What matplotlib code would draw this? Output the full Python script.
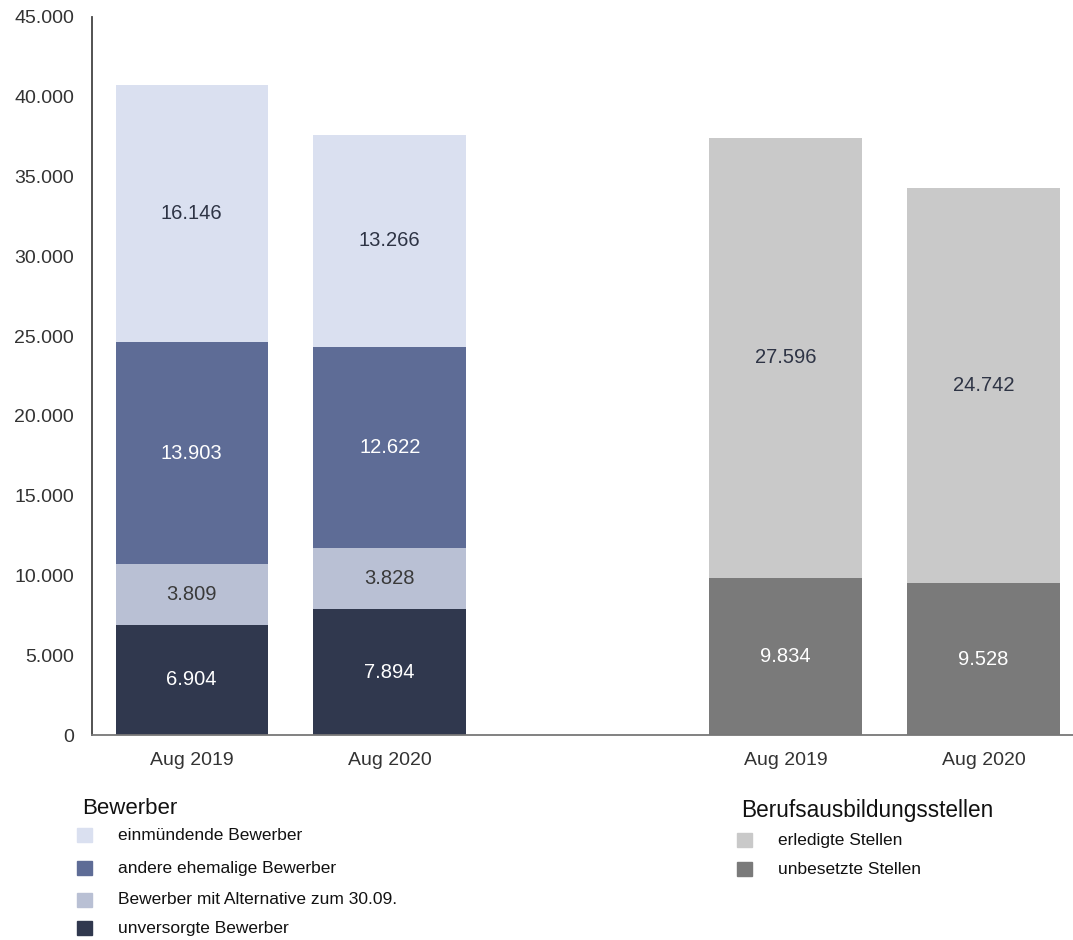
import matplotlib
matplotlib.use("Agg")
import matplotlib.pyplot as plt
from matplotlib.patches import Rectangle

plt.rcParams['font.family'] = ['Liberation Sans', 'DejaVu Sans']

# Data
categories = ["Aug 2019", "Aug 2020", "Aug 2019", "Aug 2020"]
bew_labels = ["unversorgte Bewerber", "Bewerber mit Alternative zum 30.09.",
              "andere ehemalige Bewerber", "einmündende Bewerber"]
unversorgt = [6904, 7894]
alternative = [3809, 3828]
andere = [13903, 12622]
einmuendend = [16146, 13266]

stellen_labels = ["unbesetzte Stellen", "erledigte Stellen"]
unbesetzt = [9834, 9528]
erledigt = [27596, 24742]

bew_colors = ["#30384e", "#b9c0d4", "#5e6c96", "#dae0f0"]
bew_text = ["white", "#3a3a3a", "white", "#2e3445"]
st_colors = ["#7a7a7a", "#c9c9c9"]
st_text = ["white", "#2e3445"]


def fmt(v):
    return f"{v:,}".replace(",", ".")


fig = plt.figure(figsize=(10.73, 9.4), dpi=100)
ax = fig.add_axes([0.0857, 0.218, 0.914, 0.764])

pos_bew = [0, 1]
pos_st = [3, 4]
width = 0.77

bottom = [0, 0]
for vals, col, tc in zip([unversorgt, alternative, andere, einmuendend], bew_colors, bew_text):
    ax.bar(pos_bew, vals, width, bottom=bottom, color=col)
    for x, b, v in zip(pos_bew, bottom, vals):
        ax.text(x, b + v / 2, fmt(v), ha="center", va="center", fontsize=14.5, color=tc)
    bottom = [b + v for b, v in zip(bottom, vals)]

bottom = [0, 0]
for vals, col, tc in zip([unbesetzt, erledigt], st_colors, st_text):
    ax.bar(pos_st, vals, width, bottom=bottom, color=col)
    for x, b, v in zip(pos_st, bottom, vals):
        ax.text(x, b + v / 2, fmt(v), ha="center", va="center", fontsize=14.5, color=tc)
    bottom = [b + v for b, v in zip(bottom, vals)]

ax.set_xlim(-0.504, 4.45)
ax.set_ylim(0, 45000)
ax.set_yticks(range(0, 45001, 5000))
ax.set_yticklabels([fmt(v) for v in range(0, 45001, 5000)])
ax.set_xticks(pos_bew + pos_st)
ax.set_xticklabels(categories)
ax.tick_params(axis="both", length=0, labelsize=14, colors="#333333")
ax.tick_params(axis="y", pad=13)
ax.tick_params(axis="x", pad=12)
for s in ["top", "right"]:
    ax.spines[s].set_visible(False)
ax.spines["left"].set_color("#444444")
ax.spines["bottom"].set_color("#777777")
ax.spines["left"].set_linewidth(1.3)
ax.spines["bottom"].set_linewidth(1.3)


# Legends drawn manually in figure pixels
def fx(px):
    return px / 1073


def fy(py):
    return 1 - py / 940


fig.text(fx(82), fy(808), "Bewerber", fontsize=16, va="center", color="#111111")
bew_ys = [835, 868, 900, 928]
for yy, lab, col in zip(bew_ys, bew_labels[::-1], bew_colors[::-1]):
    fig.add_artist(Rectangle((fx(77), fy(yy + 7)), fx(15), 14 / 940, color=col,
                             transform=fig.transFigure))
    fig.text(fx(118), fy(yy), lab, fontsize=12.5, va="center", color="#111111")

fig.text(fx(741), fy(811), "Berufsausbildungsstellen", fontsize=16.3, va="center", color="#111111")
st_ys = [840, 869]
for yy, lab, col in zip(st_ys, stellen_labels[::-1], st_colors[::-1]):
    fig.add_artist(Rectangle((fx(737), fy(yy + 7)), fx(15), 14 / 940, color=col,
                             transform=fig.transFigure))
    fig.text(fx(778), fy(yy), lab, fontsize=12.5, va="center", color="#111111")

fig.savefig("out.png", dpi=100)
